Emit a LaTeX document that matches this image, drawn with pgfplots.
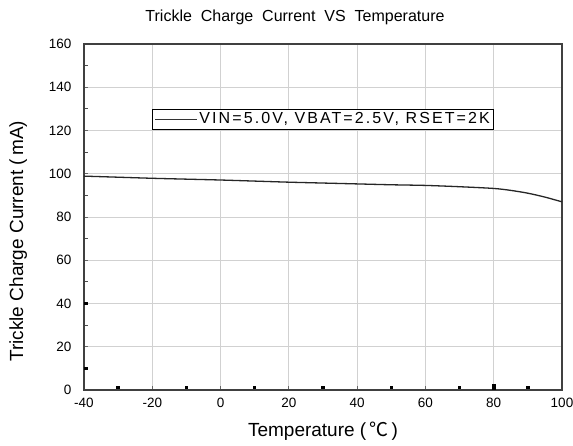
\documentclass[border=0pt]{standalone}
\usepackage{pgfplots}
\pgfplotsset{compat=1.18}
\usetikzlibrary{calc}
\usepackage{fontspec}
\setmainfont{Liberation Sans}
\newfontfamily\cjk{Noto Sans CJK SC}
\newfontfamily\legfont[LetterSpace=13]{Liberation Sans}
\begin{document}
\begin{tikzpicture}
\begin{axis}[
  scale only axis,
  width=478pt, height=346pt,
  xmin=-40, xmax=100, ymin=0, ymax=160,
  xtick={-40,-20,...,100}, ytick={0,20,...,160},
  minor x tick num=1, minor y tick num=1,
  tick align=inside,
  xtick pos=bottom, ytick pos=left,
  major tick length=4pt,
  major tick style={black!60, thick},
  minor x tick style={black, line width=3.5pt},
  minor y tick style={black!70, thick},
  minor tick length=4pt,
  grid=major,
  grid style={black!18, line width=0.8pt},
  axis line style={black!75, line width=1.2pt},
  ticklabel style={font=\fontsize{13.5}{15}\selectfont},
  /pgf/number format/assume math mode=true,
  xticklabel style={yshift=-5pt},
  yticklabel style={xshift=-9pt},
  title={Trickle\ \ Charge\ \ Current\ \ VS\ \ Temperature},
  title style={font=\fontsize{16}{18}\selectfont, yshift=10pt, xshift=-28pt},
  xlabel={Temperature\ (\,{\cjk ℃}\,)},
  xlabel style={font=\fontsize{19}{21}\selectfont, yshift=-7pt},
  ylabel={Trickle Charge Current\ (\,mA)},
  ylabel style={font=\fontsize{19}{21}\selectfont, at={(ticklabel cs:0.43)}, yshift=15pt},
  legend style={at={(axis cs:-20,130)}, anchor=north west, draw=black, line width=0.8pt,
    font=\legfont\fontsize{16}{18}\selectfont, inner ysep=1.5pt, inner xsep=2pt},
  legend cell align=left,
  legend image code/.code={\draw[#1] (0pt,0pt) -- (42pt,0pt);},
  legend image post style={black!80, line width=0.8pt},
  extra x ticks={80},
  extra x tick labels={},
  extra x tick style={grid=none, major tick length=6pt, major tick style={black, line width=4pt}},
  extra y ticks={10,40},
  extra y tick labels={},
  extra y tick style={grid=none, major tick length=4pt, major tick style={black, line width=3.5pt}},
]
\addplot[black!85, line width=1.3pt, smooth] coordinates {
  (-40,98.9) (-30,98.4) (-20,97.9) (-10,97.5) (0,97.1) (10,96.6) (20,96.1)
  (30,95.7) (40,95.3) (50,94.9) (60,94.6) (70,94.0) (80,93.2) (85,92.3)
  (90,91.0) (95,89.2) (100,87.0)
};
\addlegendentry{VIN=5.0V,\ VBAT=2.5V,\ RSET=2K}
\end{axis}
\pgfresetboundingbox
\path[use as bounding box] ($(current axis.south west)+(-84pt,-56pt)$) rectangle ($(current axis.north east)+(11pt,44pt)$);
\end{tikzpicture}
\end{document}
